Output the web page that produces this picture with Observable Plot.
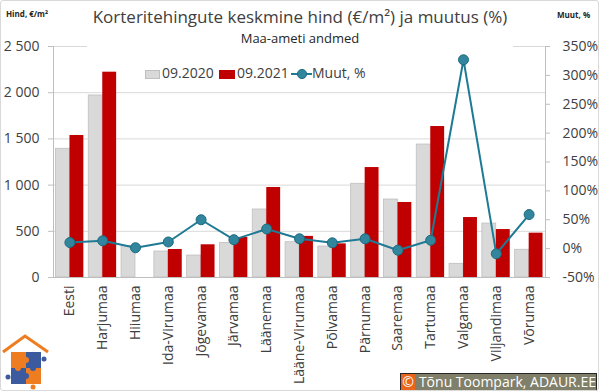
<!DOCTYPE html>
<html>
<head>
<meta charset="utf-8">
<script src="https://cdn.jsdelivr.net/npm/d3@7"></script>
<script src="https://cdn.jsdelivr.net/npm/@observablehq/plot@0.6"></script>
<style>
  html, body { margin: 0; padding: 0; background: #fff; }
  #wrap { position: relative; width: 600px; height: 392px; overflow: hidden; font-family: "Open Sans", sans-serif; color: #404040; }
  #wrap svg { position: absolute; left: 0; top: 0; }
  .abs { position: absolute; white-space: nowrap; }
  #border { position: absolute; left: 0; top: 0; width: 599px; height: 391px; box-sizing: border-box; border: 1px solid #D9D9D9; border-radius: 3px; pointer-events: none; }
</style>
</head>
<body>
<div id="wrap"></div>
<script>
// ---- data ----
const categories = ["Eesti","Harjumaa","Hiiumaa","Ida-Virumaa","Jõgevamaa","Järvamaa","Läänemaa","Lääne-Virumaa","Põlvamaa","Pärnumaa","Saaremaa","Tartumaa","Valgamaa","Viljandimaa","Võrumaa"];
const price2020 = [1393, 1970, 340, 281, 238, 375, 736, 382, 335, 1014, 844, 1439, 148, 584, 300];
const price2021 = [1537, 2222, null, 303, 354, 433, 974, 445, 364, 1190, 812, 1634, 649, 519, 480];
const changePct = [10.5, 13.5, 1.5, 11.5, 50, 15.5, 34, 17, 10, 17, -2.7, 14.5, 327, -9, 59];
const seriesNames = ["09.2020", "09.2021", "Muut, %"];
const leftTicks = [0, 500, 1000, 1500, 2000, 2500];
const rightTicks = [-50, 0, 50, 100, 150, 200, 250, 300, 350];

const yMax = 2500, pMin = -50, pMax = 350;
const toY = p => (p - pMin) / (pMax - pMin) * yMax;
const toPct = y => y / yMax * (pMax - pMin) + pMin;

const d2020 = categories.map((c, i) => ({cat: c, v: price2020[i]}));
const d2021 = categories.map((c, i) => ({cat: c, v: price2021[i]})).filter(d => d.v != null);
const dChg = categories.map((c, i) => ({cat: c, p: changePct[i]}));

const fmtLeft = d => d3.format(",")(d).replace(/,/g, " ");

const chart = Plot.plot({
  width: 600,
  height: 392,
  marginLeft: 53,
  marginRight: 55,
  marginTop: 46,
  marginBottom: 115,
  style: {fontFamily: "Open Sans, sans-serif", fontSize: "14px", color: "#404040", background: "transparent"},
  x: {type: "band", domain: categories, paddingInner: 0.15, paddingOuter: 0.075, round: false, axis: null},
  y: {domain: [0, yMax], axis: null},
  marks: [
    Plot.gridY(leftTicks.filter(t => t > 0), {stroke: "#D9D9D9", strokeOpacity: 1}),
    Plot.barY(d2020, {x: "cat", y: "v", fill: "#D9D9D9", stroke: "#BFBFBF", strokeWidth: 0.8, insetRight: 14}),
    Plot.barY(d2021, {x: "cat", y: "v", fill: "#C00000", insetLeft: 14}),
    Plot.ruleY([0], {stroke: "#BFBFBF"}),
    Plot.frame({anchor: "left", stroke: "#BFBFBF"}),
    Plot.frame({anchor: "right", stroke: "#BFBFBF"}),
    Plot.axisY({anchor: "left", ticks: leftTicks, tickSize: 5, tickFormat: () => "", color: "#BFBFBF", label: null}),
    Plot.axisY({anchor: "left", ticks: leftTicks, tickSize: 0, tickPadding: 14, tickFormat: fmtLeft, fill: "#404040", fontSize: 14, label: null}),
    Plot.axisY({anchor: "right", ticks: rightTicks.map(toY), tickSize: 4, tickFormat: () => "", color: "#BFBFBF", label: null}),
    Plot.axisY({anchor: "right", ticks: rightTicks.map(toY), tickSize: 0, tickPadding: 17, tickFormat: v => Math.round(toPct(v)) + "%", fill: "#404040", fontSize: 14, label: null}),
    Plot.axisX({anchor: "bottom", tickSize: 0, tickPadding: 8, tickRotate: -90, fill: "#404040", fontSize: 14, label: null}),
    Plot.line(dChg, {x: "cat", y: d => toY(d.p), stroke: "#1F7A94", strokeWidth: 2}),
    Plot.dot(dChg, {x: "cat", y: d => toY(d.p), r: 5, fill: "#31859C", stroke: "#1C6B80", strokeWidth: 1})
  ]
});

const wrap = document.getElementById("wrap");
wrap.appendChild(chart);

function addText(txt, left, top, css) {
  const el = document.createElement("div");
  el.className = "abs";
  el.textContent = txt;
  el.style.left = left + "px";
  el.style.top = top + "px";
  Object.assign(el.style, css || {});
  wrap.appendChild(el);
  return el;
}

// title block (white box that masks top gridline like the original)
const tbox = document.createElement("div");
tbox.className = "abs";
Object.assign(tbox.style, {left: "87px", top: "0px", width: "426px", height: "48px", background: "#fff"});
wrap.appendChild(tbox);
addText("Korteritehingute keskmine hind (€/m²) ja muutus (%)", 87, 5, {width: "426px", textAlign: "center", fontSize: "17px", lineHeight: "23px", color: "#404040"});
addText("Maa-ameti andmed", 87, 29, {width: "426px", textAlign: "center", fontSize: "13px", lineHeight: "18px", color: "#262626"});

addText("Hind, €/m²", 6, 8, {fontSize: "8px", fontWeight: "bold", lineHeight: "12px", color: "#262626"});
addText("Muut, %", 557, 9, {fontSize: "8px", fontWeight: "bold", lineHeight: "12px", color: "#262626"});

// legend
function rect(left, top, w, h, css) {
  const el = document.createElement("div");
  el.className = "abs";
  Object.assign(el.style, {left: left + "px", top: top + "px", width: w + "px", height: h + "px", boxSizing: "border-box"}, css);
  wrap.appendChild(el);
}
rect(145, 70, 15, 9, {background: "#D9D9D9", border: "1px solid #BFBFBF"});
addText(seriesNames[0], 162, 63, {fontSize: "14px", lineHeight: "19px", color: "#404040"});
rect(219, 70, 16, 9, {background: "#C00000"});
addText(seriesNames[1], 237, 63, {fontSize: "14px", lineHeight: "19px", color: "#404040"});
const lg = document.createElementNS("http://www.w3.org/2000/svg", "svg");
lg.setAttribute("width", "22"); lg.setAttribute("height", "12");
lg.style.left = "291px"; lg.style.top = "68px";
lg.innerHTML = '<line x1="0" y1="6" x2="21" y2="6" stroke="#1F7A94" stroke-width="2"/><circle cx="11" cy="6" r="4.6" fill="#31859C" stroke="#1C6B80" stroke-width="1"/>';
wrap.appendChild(lg);
addText(seriesNames[2], 312, 63, {fontSize: "14px", lineHeight: "19px", color: "#404040"});

// logo (decorative)
const logo = document.createElementNS("http://www.w3.org/2000/svg", "svg");
logo.setAttribute("width", "52"); logo.setAttribute("height", "60");
logo.style.left = "0px"; logo.style.top = "332px";
logo.innerHTML = '<rect x="0" y="0" width="52" height="60" fill="#fff"/>' +
  '<polyline points="3,20 25,4 48,20" fill="none" stroke="#EE7D22" stroke-width="3"/>' +
  '<rect x="11" y="20" width="15" height="16" fill="#EE7D22"/>' +
  '<rect x="26" y="20" width="15" height="16" fill="#3C5A9E"/>' +
  '<rect x="11" y="36" width="15" height="16" fill="#3C5A9E"/>' +
  '<rect x="26" y="36" width="15" height="16" fill="#EE7D22"/>' +
  '<circle cx="26" cy="28" r="3" fill="#EE7D22"/><circle cx="33" cy="36" r="3" fill="#3C5A9E"/>' +
  '<circle cx="18" cy="36" r="3" fill="#EE7D22"/><circle cx="26" cy="44" r="3" fill="#3C5A9E"/>' +
  '<circle cx="8" cy="45" r="2.5" fill="#3C5A9E"/><circle cx="44" cy="27" r="2.5" fill="#3C5A9E"/>' +
  '<circle cx="33" cy="55" r="2.5" fill="#EE7D22"/>';
wrap.appendChild(logo);

// copyright box
const cb = document.createElement("div");
cb.className = "abs";
Object.assign(cb.style, {left: "400px", top: "373px", width: "197px", height: "18px", boxSizing: "border-box", border: "1px solid #262626", background: "#7F7F6A", display: "flex", alignItems: "center"});
cb.innerHTML = '<span style="display:inline-block;width:17px;height:16px;background:#E8661C;color:#fff;font-size:14px;line-height:16px;text-align:center;">©</span><span style="color:#fff;font-size:14px;line-height:16px;padding-left:4px;">Tõnu Toompark, ADAUR.EE</span>';
wrap.appendChild(cb);

const border = document.createElement("div");
border.id = "border";
wrap.appendChild(border);
</script>
</body>
</html>
